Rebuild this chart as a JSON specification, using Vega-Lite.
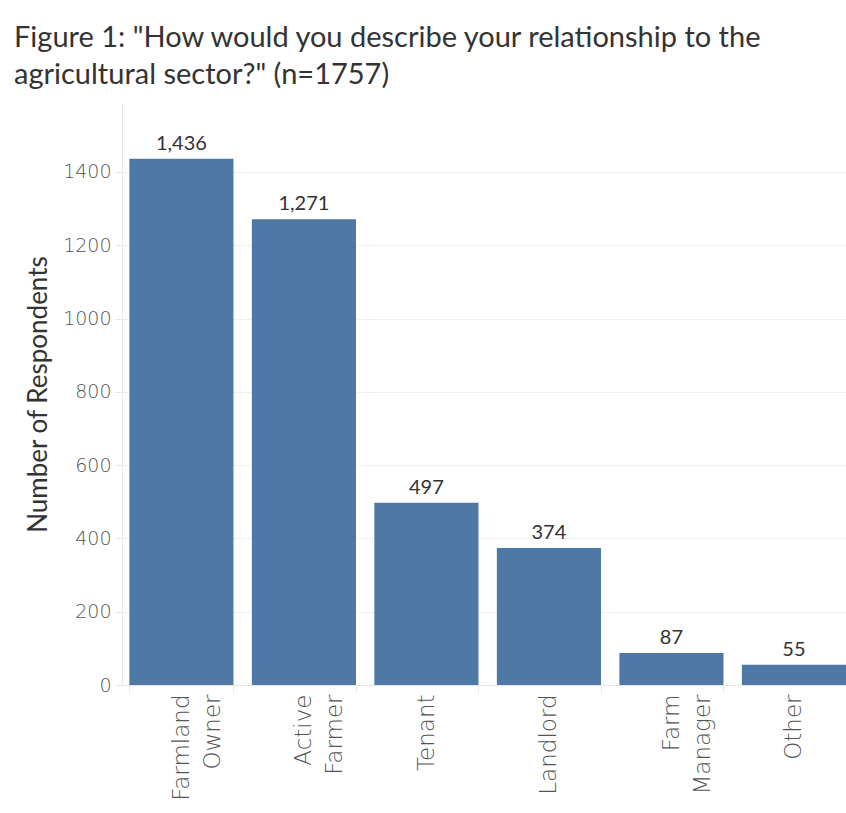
{
  "$schema": "https://vega.github.io/schema/vega-lite/v6.json",
  "width": 724,
  "height": 582,
  "autosize": {"type": "none"},
  "padding": {"left": 122, "top": 103, "right": 0, "bottom": 128},
  "background": "white",
  "title": {
    "text": ["Figure 1: \"How would you describe your relationship to the", "agricultural sector?\" (n=1757)"],
    "anchor": "start",
    "frame": "group",
    "dx": -108,
    "offset": 13,
    "font": "Lato",
    "fontSize": 29,
    "fontWeight": "normal",
    "color": "#333333",
    "lineHeight": 37
  },
  "data": {
    "values": [
      {"category": "Farmland Owner", "count": 1436},
      {"category": "Active Farmer", "count": 1271},
      {"category": "Tenant", "count": 497},
      {"category": "Landlord", "count": 374},
      {"category": "Farm Manager", "count": 87},
      {"category": "Other", "count": 55}
    ]
  },
  "encoding": {
    "x": {
      "field": "category",
      "type": "nominal",
      "sort": null,
      "scale": {"paddingInner": 0.15, "paddingOuter": 0.03, "align": 1},
      "axis": {
        "title": null,
        "labelAngle": 270,
        "labelAlign": "right",
        "labelBaseline": "middle",
        "labelExpr": "split(datum.label, ' ')",
        "labelFont": "DejaVu Sans",
        "labelFontSize": 23,
        "labelFontWeight": 200,
        "labelColor": "#555555",
        "labelLineHeight": 31,
        "labelPadding": 2,
        "tickBand": "extent",
        "ticks": true,
        "tickSize": 7,
        "tickColor": "#e6e6e6",
        "domainColor": "#e6e6e6",
        "grid": false
      }
    },
    "y": {
      "field": "count",
      "type": "quantitative",
      "scale": {"domain": [0, 1588], "nice": false},
      "axis": {
        "title": "Number of Respondents",
        "values": [0, 200, 400, 600, 800, 1000, 1200, 1400],
        "labelExpr": "replace(datum.label, ',', '')",
        "grid": true,
        "gridColor": "#f0f0f0",
        "tickColor": "#e6e6e6",
        "tickSize": 7,
        "domainColor": "#e6e6e6",
        "labelFont": "DejaVu Sans",
        "labelFontSize": 19,
        "labelFontWeight": 200,
        "labelColor": "#555555",
        "labelPadding": 4,
        "titleFont": "Lato",
        "titleFontSize": 26,
        "titleFontWeight": "normal",
        "titleColor": "#333333",
        "titlePadding": 11
      }
    }
  },
  "layer": [
    {"mark": {"type": "bar", "color": "#4e79a7"}},
    {
      "mark": {"type": "text", "dy": -9, "baseline": "alphabetic", "font": "Lato", "fontSize": 20, "color": "#333333"},
      "encoding": {"text": {"field": "count", "type": "quantitative", "format": ","}}
    }
  ],
  "config": {"view": {"stroke": null}}
}
